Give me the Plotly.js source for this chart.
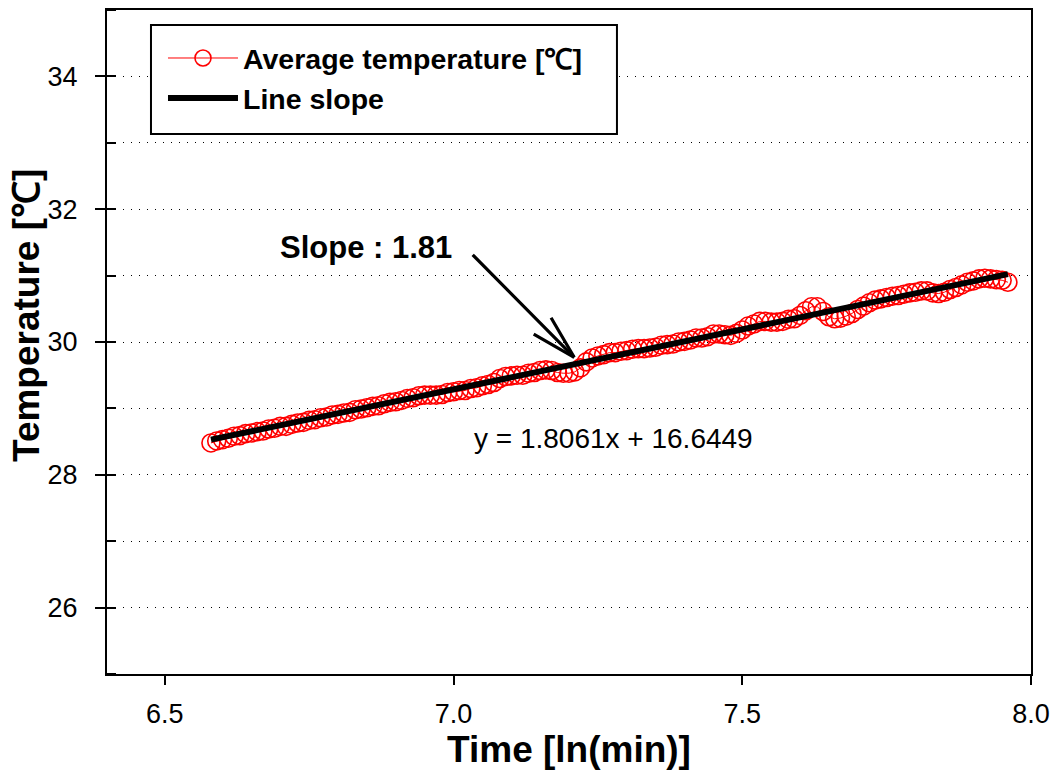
<!DOCTYPE html>
<html>
<head>
<meta charset="utf-8">
<script src="https://cdn.plot.ly/plotly-3.0.1.min.js"></script>
<style>html,body{margin:0;padding:0;background:#fff;}#chart{width:1050px;height:776px;}</style>
</head>
<body>
<div id="chart"></div>
<script>
// Time [ln(min)]
const timeLn = [6.58,6.59,6.60,6.61,6.62,6.63,6.64,6.65,6.66,6.67,6.68,6.69,6.70,6.71,6.72,6.73,6.74,6.75,6.76,6.77,6.78,6.79,
6.80,6.81,6.82,6.83,6.84,6.85,6.86,6.87,6.88,6.89,6.90,6.91,6.92,6.93,6.94,6.95,6.96,6.97,6.98,6.99,
7.00,7.01,7.02,7.03,7.04,7.05,7.06,7.07,7.08,7.09,7.10,7.11,7.12,7.13,7.14,7.15,7.16,7.17,7.18,7.19,
7.20,7.21,7.22,7.23,7.24,7.25,7.26,7.27,7.28,7.29,7.30,7.31,7.32,7.33,7.34,7.35,7.36,7.37,7.38,7.39,
7.40,7.41,7.42,7.43,7.44,7.45,7.46,7.47,7.48,7.49,7.50,7.51,7.52,7.53,7.54,7.55,7.56,7.57,7.58,7.59,
7.60,7.61,7.62,7.63,7.64,7.65,7.66,7.67,7.68,7.69,7.70,7.71,7.72,7.73,7.74,7.75,7.76,7.77,7.78,7.79,
7.80,7.81,7.82,7.83,7.84,7.85,7.86,7.87,7.88,7.89,7.90,7.91,7.92,7.93,7.94,7.95,7.96];
// Average temperature [℃]
const avgTemp = [28.48,28.51,28.53,28.55,28.58,28.59,28.62,28.63,28.65,28.66,28.69,28.70,28.73,28.73,28.76,28.78,28.79,28.82,28.83,28.86,28.87,28.90,
28.91,28.93,28.94,28.98,28.99,29.01,29.03,29.04,29.07,29.09,29.10,29.12,29.15,29.16,29.19,29.20,29.20,29.20,29.21,29.24,
29.25,29.27,29.27,29.30,29.31,29.34,29.36,29.39,29.45,29.48,29.49,29.50,29.50,29.53,29.54,29.57,29.58,29.57,29.54,29.53,
29.53,29.55,29.61,29.70,29.76,29.79,29.81,29.84,29.84,29.86,29.87,29.89,29.90,29.90,29.91,29.92,29.95,29.96,29.97,30.00,
30.01,30.03,30.06,30.06,30.08,30.12,30.12,30.11,30.10,30.13,30.18,30.24,30.27,30.31,30.31,30.30,30.30,30.31,30.34,30.35,
30.40,30.47,30.53,30.53,30.46,30.38,30.35,30.36,30.39,30.43,30.49,30.54,30.59,30.63,30.65,30.67,30.69,30.70,30.72,30.74,
30.75,30.77,30.77,30.74,30.73,30.75,30.79,30.82,30.86,30.90,30.92,30.95,30.96,30.95,30.94,30.93,30.90];
// Fitted line y = slope*x + intercept
const slope = 1.8061;
const intercept = 16.6449;
const fitX = [6.58, 7.96];
const fitY = fitX.map(v => slope * v + intercept);

const FONT = "Arial, 'Liberation Sans', sans-serif";

const traces = [
  {
    x: timeLn, y: avgTemp, type: 'scatter', mode: 'lines+markers',
    name: 'Average temperature [℃]',
    line: {color: 'red', width: 1},
    marker: {symbol: 'circle-open', size: 18, color: 'red', line: {width: 1.6, color: 'red'}}
  },
  {
    x: fitX, y: fitY, type: 'scatter', mode: 'lines',
    name: 'Line slope',
    line: {color: 'black', width: 6}
  }
];

const arrowTip = {x: 7.209, y: 29.77};

const layout = {
  width: 1050, height: 776,
  margin: {l: 107, r: 19, t: 10, b: 102},
  paper_bgcolor: '#fff', plot_bgcolor: '#fff',
  font: {family: FONT, color: '#000', size: 27},
  showlegend: true,
  legend: {
    x: 0.0606, y: 0.9654, xanchor: 'left', yanchor: 'top',
    bgcolor: 'rgba(0,0,0,0)', borderwidth: 0,
    font: {family: FONT, size: 28.5, color: '#000', weight: 'bold'},
    itemwidth: 70,
    tracegroupgap: 0
  },
  shapes: [
    // legend frame
    {type: 'rect', xref: 'paper', yref: 'paper', x0: 0.0476, x1: 0.5519, y0: 0.8133, y1: 0.9774,
     line: {color: '#000', width: 2}, fillcolor: '#fff', layer: 'above'}
  ],
  xaxis: {
    range: [6.4, 8.0], tick0: 6.5, dtick: 0.5, tickformat: '.1f',
    ticks: 'outside', ticklen: 9, tickwidth: 2, tickcolor: '#000',
    showline: true, linecolor: '#000', linewidth: 2, mirror: true,
    showgrid: false, zeroline: false,
    tickfont: {family: FONT, size: 27, color: '#000'},
    ticklabelstandoff: 6,
    title: {text: 'Time [ln(min)]', font: {family: FONT, size: 37, color: '#000', weight: 'bold'}, standoff: 7}
  },
  yaxis: {
    range: [25, 35], tick0: 26, dtick: 2,
    ticks: 'outside', ticklen: 10, tickwidth: 2, tickcolor: '#000',
    showline: true, linecolor: '#000', linewidth: 2, mirror: true,
    showgrid: true, gridcolor: '#000', gridwidth: 1, griddash: '1px,7px', zeroline: false,
    minor: {dtick: 1, ticks: 'inside', ticklen: 9, tickwidth: 2, tickcolor: '#000',
            showgrid: true, gridcolor: '#000', gridwidth: 1, griddash: '1px,7px'},
    tickfont: {family: FONT, size: 27, color: '#000'},
    ticklabelstandoff: 12,
    title: {text: ''}
  },
  annotations: [
    // y-axis title
    {xref: 'paper', yref: 'paper', x: -0.0866, y: 0.5407, xanchor: 'center', yanchor: 'middle',
     text: 'Temperature [℃]', textangle: -90, showarrow: false,
     font: {family: FONT, size: 37, color: '#000', weight: 'bold'}},
    {x: 6.848, y: 31.42, xref: 'x', yref: 'y', text: 'Slope : 1.81', showarrow: false,
     font: {family: FONT, size: 31, color: '#000', weight: 'bold'}},
    // arrow shaft
    {x: arrowTip.x, y: arrowTip.y, xref: 'x', yref: 'y', text: '', showarrow: true,
     ax: -103, ay: -104, arrowhead: 0, arrowwidth: 3.2, arrowcolor: '#000', standoff: 0},
    // arrow barbs (open V head)
    {x: arrowTip.x, y: arrowTip.y, xref: 'x', yref: 'y', text: '', showarrow: true,
     ax: -42, ay: -24, arrowhead: 0, arrowwidth: 3.2, arrowcolor: '#000', standoff: 0},
    {x: arrowTip.x, y: arrowTip.y, xref: 'x', yref: 'y', text: '', showarrow: true,
     ax: -24, ay: -41, arrowhead: 0, arrowwidth: 3.2, arrowcolor: '#000', standoff: 0},
    {x: 7.277, y: 28.54, xref: 'x', yref: 'y', text: 'y = 1.8061x + 16.6449', showarrow: false,
     font: {family: FONT, size: 28, color: '#000'}}
  ]
};

Plotly.newPlot('chart', traces, layout, {staticPlot: true, displayModeBar: false});
</script>
</body>
</html>
